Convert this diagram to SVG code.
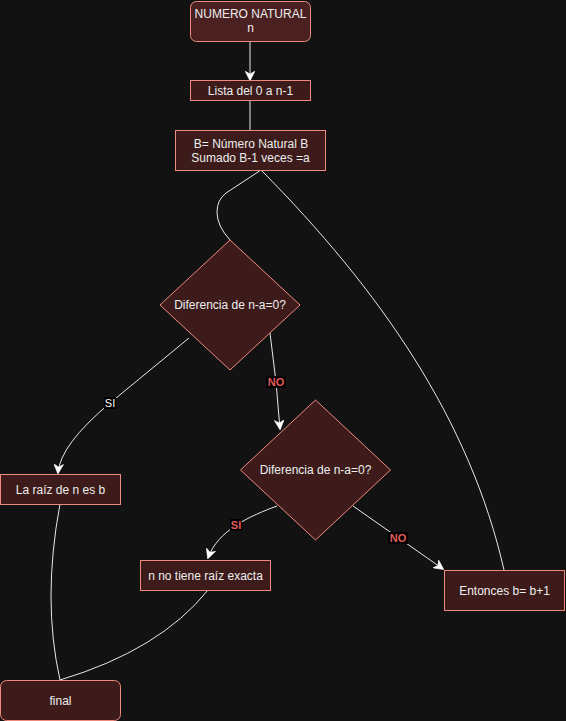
<svg xmlns="http://www.w3.org/2000/svg" width="566" height="721" viewBox="0 0 566 721">
<style>
.node{fill:#3c1b1a;stroke:#f08a7e;stroke-width:1}
.top{fill:#4a2020}
.t{font-family:"Liberation Sans",Arial,sans-serif;font-size:12px;fill:#eeeeee;text-anchor:middle;dominant-baseline:central}
.e{fill:none;stroke:#e8e8e8;stroke-width:1}
.lbg{fill:#000000}
.lw{font-family:"Liberation Sans",Arial,sans-serif;font-size:11px;fill:#ffffff;text-anchor:middle;dominant-baseline:central}
.lr{font-family:"Liberation Sans",Arial,sans-serif;font-size:11px;font-weight:bold;fill:#e25b5b;text-anchor:middle;dominant-baseline:central}
</style>
<defs>
<marker id="arr" viewBox="0 0 10 10" refX="9" refY="5" markerWidth="10" markerHeight="10" markerUnits="userSpaceOnUse" orient="auto">
<path d="M0,0 L10,5 L0,10 L3,5 Z" fill="#ffffff" stroke="#ffffff" stroke-width="0.5"/>
</marker>
</defs>
<rect width="566" height="721" fill="#121212"/>
<g id="connectors">
<path class="e" d="M250,41 L250,80" marker-end="url(#arr)"/>
<path class="e" d="M250,100 L250,130"/>
<path class="e" d="M261,170 L226,193 Q217,200 217,212 Q217,226 230,240"/>
<path class="e" d="M504,570 C470,420 380,290 261,170"/>
<path class="e" d="M189,338 L110,403 Q60,445 58,473" marker-end="url(#arr)"/>
<path class="e" d="M270,333 L276,382 L280,429" marker-end="url(#arr)"/>
<path class="e" d="M277,506 C250,516 218,530 208,558" marker-end="url(#arr)"/>
<path class="e" d="M353,506 L443,569" marker-end="url(#arr)"/>
<path class="e" d="M60,504 Q42,600 60,680"/>
<path class="e" d="M208,590 Q160,650 60,680"/>
<rect class="lbg" x="104" y="397" width="12" height="12"/>
<text class="lw" x="110" y="403">SI</text>
<rect class="lbg" x="266" y="376" width="20" height="12"/>
<text class="lr" x="276" y="382">NO</text>
<rect class="lbg" x="230" y="519" width="12" height="12"/>
<text class="lr" x="236" y="525">SI</text>
<rect class="lbg" x="388" y="532" width="20" height="12"/>
<text class="lr" x="398" y="538">NO</text>
</g>
<g id="n1">
<rect class="node top" x="190.5" y="1.5" width="120" height="40" rx="6"/>
<text class="t" x="250.5" y="14">NUMERO NATURAL</text>
<text class="t" x="250.5" y="28">n</text>
</g>
<g id="n2">
<rect class="node" x="190.5" y="80.5" width="120" height="20"/>
<text class="t" x="250.5" y="90.5">Lista del 0 a n-1</text>
</g>
<g id="n3">
<rect class="node" x="175.5" y="130.5" width="150" height="40"/>
<text class="t" x="251" y="143.5">B= Número Natural B</text>
<text class="t" x="250.5" y="157.5">Sumado B-1 veces =a</text>
</g>
<g id="d1">
<path class="node" d="M230,240 L300,305 L230,370 L160,305 Z"/>
<text class="t" x="230" y="305">Diferencia de n-a=0?</text>
</g>
<g id="d2">
<path class="node" d="M315.5,400 L390.5,470 L315.5,540 L240.5,470 Z"/>
<text class="t" x="315.5" y="470">Diferencia de n-a=0?</text>
</g>
<g id="n4">
<rect class="node" x="0.5" y="474.5" width="120" height="30"/>
<text class="t" x="60.5" y="489.5">La raíz de n es b</text>
</g>
<g id="n5">
<rect class="node" x="140.5" y="560.5" width="130" height="30"/>
<text class="t" x="205.5" y="575.5">n no tiene raíz exacta</text>
</g>
<g id="n6">
<rect class="node" x="444.5" y="570.5" width="120" height="40"/>
<text class="t" x="504.5" y="590.5">Entonces b= b+1</text>
</g>
<g id="n7">
<rect class="node" x="0.5" y="680.5" width="120" height="40" rx="6"/>
<text class="t" x="60.5" y="700.5">final</text>
</g>
</svg>
